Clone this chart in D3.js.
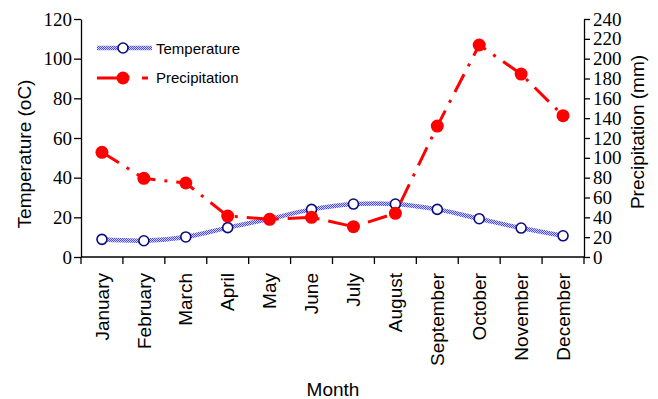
<!DOCTYPE html>
<html>
<head>
<meta charset="utf-8">
<script src="https://cdn.jsdelivr.net/npm/d3@7"></script>
<style>
  body { margin: 0; background: #fff; }
  .title { font-family: "Liberation Sans", Arial, sans-serif; font-size: 19px; fill: #000; }
  .legend text { font-family: "Liberation Sans", Arial, sans-serif; font-size: 15px; fill: #000; }
</style>
</head>
<body>
<script>
// data
const months = ["January", "February", "March", "April", "May", "June",
  "July", "August", "September", "October", "November", "December"];
const temperature = [8.9, 8.2, 10.1, 14.8, 19.2, 24.0, 26.7, 26.7, 24.0, 19.3, 14.6, 10.7];
const precipitation = [105.6, 79.3, 74.6, 41.3, 38.0, 40.0, 30.6, 44.0, 132.0, 213.8, 184.5, 142.5];
const tempTicks = [0, 20, 40, 60, 80, 100, 120];
const precTicks = [0, 20, 40, 60, 80, 100, 120, 140, 160, 180, 200, 220, 240];

const width = 658, height = 399;
const plot = {left: 81, right: 584, top: 19, bottom: 257};
const serif = '"Liberation Serif", "Times New Roman", "DejaVu Serif", serif';
const sans = '"Liberation Sans", Arial, sans-serif';

const svg = d3.select("body").append("svg")
  .attr("width", width)
  .attr("height", height);

// checkered fill for the temperature line
const defs = svg.append("defs");
const pat = defs.append("pattern")
  .attr("id", "checker")
  .attr("patternUnits", "userSpaceOnUse")
  .attr("width", 2).attr("height", 2);
pat.append("rect").attr("width", 2).attr("height", 2).attr("fill", "#d4d4ff");
pat.append("rect").attr("width", 1).attr("height", 1).attr("fill", "#4848ff");
pat.append("rect").attr("x", 1).attr("y", 1).attr("width", 1).attr("height", 1).attr("fill", "#4848ff");

const x = d3.scaleBand().domain(months).range([plot.left, plot.right]);
const xc = d => x(d) + x.bandwidth() / 2;
const yT = d3.scaleLinear().domain([0, 120]).range([plot.bottom, plot.top]);
const yP = d3.scaleLinear().domain([0, 240]).range([plot.bottom, plot.top]);

function styleAxis(g, family, size) {
  g.attr("font-family", null).attr("font-size", null);
  g.selectAll(".domain, .tick line").attr("stroke", "#000").attr("stroke-width", 1.3);
  g.selectAll(".tick text")
    .style("font-family", family)
    .style("font-size", size + "px")
    .attr("fill", "#000");
}

// axes
svg.append("g")
  .attr("transform", `translate(0,${plot.bottom})`)
  .call(d3.axisBottom(x).tickSize(0).tickPadding(0))
  .call(g => styleAxis(g, sans, 19))
  .call(g => g.selectAll(".tick text")
    .attr("transform", "rotate(-90)")
    .attr("x", -16)
    .attr("y", 0)
    .attr("dy", "0.35em")
    .style("text-anchor", "end"))
  .call(g => g.select(".domain").attr("d", `M${plot.left},0H${plot.right}`));

// band boundary ticks
svg.append("g")
  .selectAll("line")
  .data(d3.range(months.length + 1))
  .join("line")
  .attr("x1", i => plot.left + i * x.step())
  .attr("x2", i => plot.left + i * x.step())
  .attr("y1", plot.bottom)
  .attr("y2", plot.bottom + 7)
  .attr("stroke", "#000")
  .attr("stroke-width", 1.3);

svg.append("g")
  .attr("transform", `translate(${plot.left},0)`)
  .call(d3.axisLeft(yT).tickValues(tempTicks).tickSize(7).tickSizeOuter(0).tickPadding(2))
  .call(g => styleAxis(g, serif, 19));

svg.append("g")
  .attr("transform", `translate(${plot.right},0)`)
  .call(d3.axisRight(yP).tickValues(precTicks).tickSize(6).tickSizeOuter(0).tickPadding(3))
  .call(g => styleAxis(g, serif, 19));

// axis titles
svg.append("text").attr("class", "title")
  .attr("transform", "translate(31,154) rotate(-90)")
  .attr("text-anchor", "middle")
  .text("Temperature (oC)");
svg.append("text").attr("class", "title")
  .attr("transform", "translate(644,132) rotate(-90)")
  .attr("text-anchor", "middle")
  .text("Precipitation (mm)");
svg.append("text").attr("class", "title")
  .attr("x", 333).attr("y", 396)
  .attr("text-anchor", "middle")
  .text("Month");

// temperature series
svg.append("path")
  .datum(temperature)
  .attr("fill", "none")
  .attr("stroke", "url(#checker)")
  .attr("stroke-width", 4.5)
  .attr("d", d3.line().x((d, i) => xc(months[i])).y(d => yT(d)).curve(d3.curveCatmullRom));

svg.append("g").selectAll("circle")
  .data(temperature)
  .join("circle")
  .attr("cx", (d, i) => xc(months[i]))
  .attr("cy", d => yT(d))
  .attr("r", 5)
  .attr("fill", "#fff")
  .attr("stroke", "#0a0a80")
  .attr("stroke-width", 1.6);

// precipitation series
svg.append("path")
  .datum(precipitation)
  .attr("fill", "none")
  .attr("stroke", "#ff0000")
  .attr("stroke-width", 3)
  .attr("stroke-dasharray", "20,9,3,9")
  .attr("d", d3.line().x((d, i) => xc(months[i])).y(d => yP(d)));

svg.append("g").selectAll("circle")
  .data(precipitation)
  .join("circle")
  .attr("cx", (d, i) => xc(months[i]))
  .attr("cy", d => yP(d))
  .attr("r", 6.5)
  .attr("fill", "#ff0000");

// legend
const legend = svg.append("g").attr("class", "legend");
legend.append("line")
  .attr("x1", 97).attr("x2", 152).attr("y1", 48).attr("y2", 48)
  .attr("stroke", "url(#checker)").attr("stroke-width", 4.5);
legend.append("circle")
  .attr("cx", 123).attr("cy", 48).attr("r", 5)
  .attr("fill", "#fff").attr("stroke", "#0a0a80").attr("stroke-width", 1.6);
legend.append("text").attr("x", 156).attr("y", 54).text("Temperature");

legend.append("line")
  .attr("x1", 97).attr("x2", 152).attr("y1", 78).attr("y2", 78)
  .attr("stroke", "#ff0000").attr("stroke-width", 3)
  .attr("stroke-dasharray", "28,17,6,20");
legend.append("circle")
  .attr("cx", 123).attr("cy", 78).attr("r", 6.5).attr("fill", "#ff0000");
legend.append("text").attr("x", 156).attr("y", 83).text("Precipitation");
</script>
</body>
</html>
